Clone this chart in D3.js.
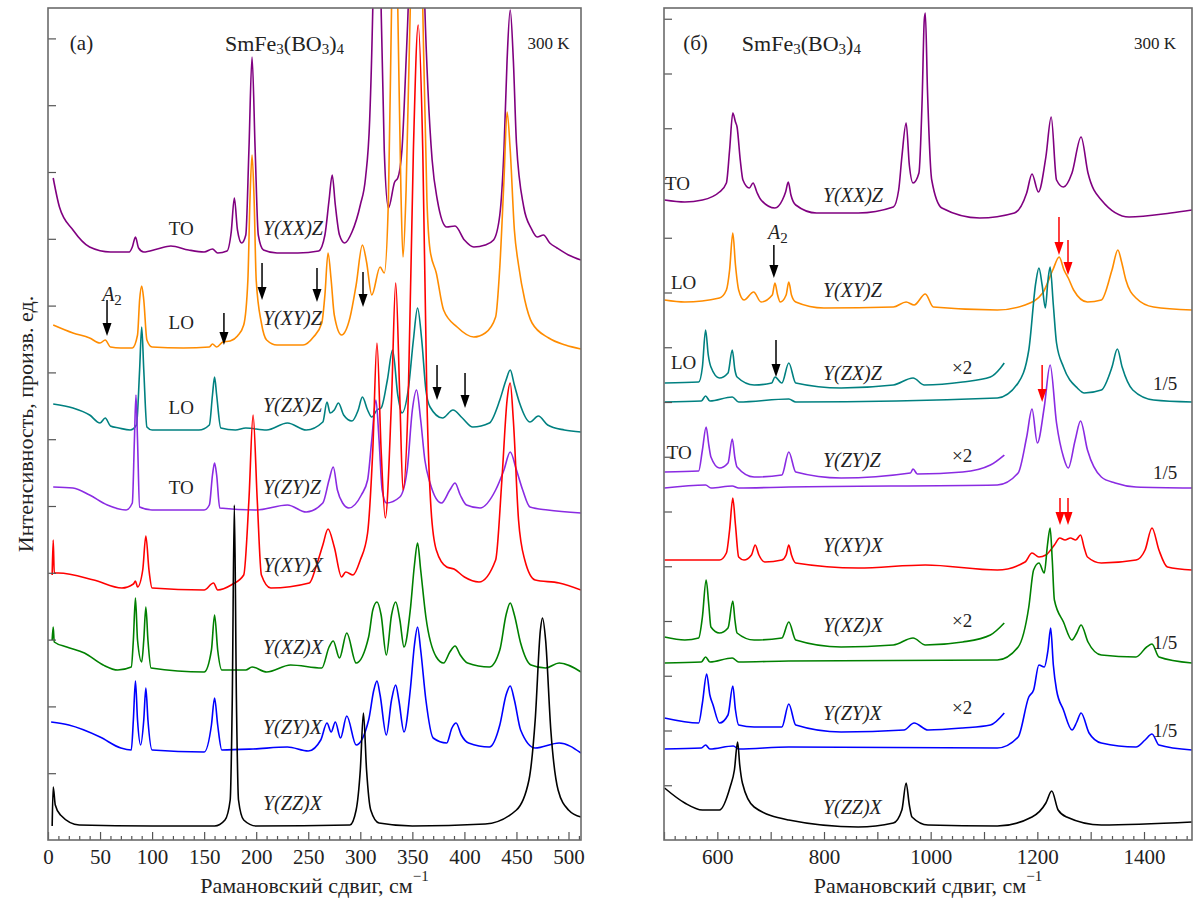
<!doctype html>
<html>
<head>
<meta charset="utf-8">
<title>SmFe3(BO3)4 Raman spectra</title>
<script src="https://cdnjs.cloudflare.com/ajax/libs/d3/7.8.5/d3.min.js"></script>
<style>
  body { margin: 0; background: #fff; }
</style>
</head>
<body>
<div id="root"></div>
<script>
// Raman shift (cm-1) vs intensity (arb. units).
// ---- panel (a), 0..512 cm-1 ----
const aXXZ = [[5,66.2],[11,63.3],[24,61.0],[40,59.3],[60,58.8],[78,58.8],[81,59.3],[84,60.3],[87,59.2],[92,58.8],[105,59.1],[118,59.4],[135,59.0],[150,58.8],[158,59.1],[163,58.7],[172,58.9],[176,60.8],[179,64.2],[182,61.0],[186,59.7],[190,60.5],[193,69.0],[196,78.3],[199,69.0],[202,60.5],[207,59.0],[220,58.7],[240,58.7],[260,58.9],[266,60.5],[270,64.0],[273,66.5],[276,63.5],[280,60.5],[285,59.7],[292,60.8],[300,63.5],[305,66.2],[309,72.0],[312,83.2],[316,110],[320,83.2],[323,69.0],[327,63.2],[333,65.8],[336,66.2],[340,69.0],[344,78.0],[346,83.2],[354,130],[362,83.2],[365,75.0],[369,68.0],[374,64.0],[383,61.3],[391,61.4],[400,60.0],[409,59.3],[420,59.5],[428,60.0],[434,62.5],[438,69.0],[441,78.0],[444,83.0],[447,78.0],[450,69.7],[457,63.3],[464,61.2],[470,60.3],[476,60.5],[482,59.7],[489,59.2],[500,58.5],[512,58.0]];
const aXYZ = [[5,51.5],[24,50.7],[40,50.2],[50,49.7],[55,50.0],[60,49.3],[70,49.2],[81,49.2],[86,50.5],[88,54.0],[90,55.4],[92,54.0],[95,50.0],[100,49.3],[130,49.2],[155,49.3],[158,49.6],[162,49.3],[168,49.8],[175,49.9],[182,50.4],[188,51.5],[192,56.0],[194,64.0],[196,68.5],[198,64.0],[200,56.0],[205,51.7],[210,50.0],[220,49.5],[245,49.5],[255,50.3],[263,51.7],[266,54.5],[269,58.7],[272,56.0],[275,52.5],[282,50.5],[290,52.2],[296,55.5],[302,59.5],[306,57.8],[311,54.5],[319,57.3],[323,56.7],[327,64.0],[330,83.2],[333,100],[336,83.2],[339,65.0],[341,58.3],[344,65.0],[348,83.2],[354,120],[360,83.2],[364,64.0],[367,59.0],[373,56.7],[380,53.0],[393,51.3],[409,50.3],[420,50.7],[430,52.3],[434,57.3],[438,66.0],[441,72.8],[444,69.0],[448,61.0],[452,57.5],[458,54.0],[465,51.7],[481,50.2],[497,49.5],[512,49.1]];
const aZXZ = [[5,43.6],[24,43.2],[40,42.5],[50,41.7],[55,42.2],[60,41.4],[68,41.2],[79,41.0],[85,41.5],[88,47.0],[90,51.3],[92,47.0],[95,41.3],[100,41.0],[145,41.0],[155,41.5],[158,44.5],[160,46.3],[162,44.5],[166,41.2],[180,41.0],[190,41.2],[210,41.0],[230,41.7],[248,41.0],[264,41.8],[268,43.8],[271,42.7],[275,43.0],[279,43.7],[284,42.5],[292,41.9],[298,43.0],[302,44.3],[307,43.0],[311,42.3],[316,43.0],[320,43.2],[326,46.0],[331,49.0],[336,44.5],[340,42.7],[346,45.0],[351,50.0],[355,53.2],[359,50.0],[363,45.0],[367,43.3],[379,42.2],[389,43.0],[398,42.2],[408,41.3],[424,41.7],[434,44.0],[440,46.0],[444,47.0],[448,45.5],[453,43.7],[463,41.8],[471,42.4],[480,41.5],[496,41.0],[512,40.8]];
const aZYZ = [[5,35.3],[24,35.2],[40,34.5],[57,33.5],[75,33.0],[81,33.7],[83,40.0],[84.5,44.5],[86,40.0],[88,33.3],[100,33.0],[150,33.0],[155,33.5],[158,36.5],[160,37.7],[162,36.5],[165,33.2],[200,33.0],[230,33.5],[248,32.8],[264,33.7],[270,36.0],[274,37.3],[278,35.0],[283,33.7],[289,33.2],[301,34.5],[307,36.0],[311,40.0],[315,44.0],[318,40.0],[321,35.0],[325,33.7],[338,34.3],[345,37.0],[350,43.0],[354,45.0],[358,42.0],[362,38.0],[367,35.7],[378,33.7],[386,35.0],[391,35.7],[396,34.5],[402,33.5],[415,33.2],[430,35.0],[438,37.0],[444,38.8],[450,37.0],[456,35.0],[463,33.3],[480,33.0],[512,32.7]];
const aXYX = [[4,26.5],[5,30.0],[6,26.7],[10,26.7],[44,26.0],[71,25.2],[82,25.6],[84,25.9],[86,25.3],[91,27.0],[94,30.4],[97,27.0],[100,25.2],[150,25.0],[159,25.7],[163,25.0],[176,25.5],[188,26.5],[193,34.0],[197,42.5],[201,34.0],[205,26.5],[214,25.2],[251,25.7],[258,27.5],[264,29.5],[269,31.1],[275,29.3],[282,26.3],[286,26.8],[293,26.5],[300,28.0],[307,30.7],[312,39.0],[316,49.7],[320,39.0],[324,32.2],[330,44.0],[334,55.7],[338,44.0],[341,35.0],[346,44.0],[351,69.0],[355.6,81.5],[360,69.0],[364,44.0],[368,33.0],[373,29.0],[383,27.3],[390,27.1],[400,26.3],[414,25.8],[430,28.0],[436,36.0],[441,44.0],[444,45.7],[447,42.0],[452,32.0],[458,28.0],[468,26.0],[491,25.7],[512,25.0]];
const aXZX = [[4,20.0],[5,21.3],[6,19.8],[18,19.3],[35,18.7],[53,17.5],[67,17.0],[80,17.3],[82,20.0],[84,24.2],[86,20.0],[90,17.8],[92,20.0],[94,23.3],[96,20.0],[99,17.2],[150,16.8],[157,19.0],[160,22.5],[163,19.0],[167,17.0],[190,17.0],[196,17.3],[210,16.8],[233,17.5],[263,17.2],[270,19.3],[274,19.9],[280,18.2],[287,20.7],[296,17.7],[308,20.3],[312,23.0],[316,23.8],[320,22.5],[325,18.5],[330,22.5],[334,23.8],[338,22.0],[342,19.3],[348,23.0],[352,27.5],[355,29.7],[358,27.0],[363,22.3],[373,18.3],[380,17.7],[386,18.8],[391,19.4],[396,18.5],[403,17.7],[424,17.3],[434,19.0],[440,22.5],[444,23.7],[448,22.5],[454,19.7],[464,17.5],[478,17.2],[491,17.7],[512,16.8]];
const aZYX = [[3,11.8],[20,11.5],[50,10.3],[70,9.2],[80,9.0],[82,12.0],[84,15.9],[86,12.0],[89,9.5],[92,12.0],[94,15.2],[96,12.0],[100,9.0],[150,8.8],[157,11.5],[160,14.2],[163,11.5],[167,9.0],[197,9.1],[230,9.3],[250,8.9],[262,10.0],[268,11.7],[272,10.8],[276,11.8],[281,10.2],[287,12.4],[296,9.5],[308,12.0],[313,15.0],[316,15.9],[319,14.5],[325,10.5],[330,14.0],[334,15.5],[337,14.0],[342,10.8],[348,15.0],[352,19.5],[355,21.3],[358,19.0],[363,14.0],[370,10.2],[383,9.7],[388,11.2],[392,11.7],[397,10.5],[404,9.7],[424,9.3],[434,11.5],[440,14.5],[444,15.4],[448,14.0],[454,11.0],[468,9.2],[491,9.7],[512,8.7]];
const aZZX = [[4,1.4],[5,5.3],[7,3.5],[12,2.5],[30,1.5],[100,1.4],[160,1.4],[170,2.0],[175,4.0],[177,14.0],[179,33.5],[181,14.0],[183,4.0],[188,2.0],[200,1.4],[290,1.5],[296,3.0],[300,7.0],[303,12.7],[306,7.0],[310,3.0],[318,1.7],[350,1.4],[420,1.6],[450,3.0],[462,6.0],[468,12.0],[473,21.0],[475,22.2],[478,20.0],[483,11.0],[490,5.0],[500,3.0],[512,2.3]];

// ---- panel (б), 500..1490 cm-1 ----
const bXXZ = [[501,64.0],[539,63.8],[572,64.0],[604,64.8],[617,65.7],[623,69.0],[629,72.7],[634,71.8],[637,71.3],[643,68.0],[648,66.0],[660,65.2],[667,65.7],[674,64.8],[682,64.0],[708,63.2],[722,64.0],[728,64.8],[733,65.8],[738,64.5],[747,63.5],[786,62.7],[864,62.7],[930,63.3],[940,65.0],[946,68.3],[954,71.7],[960,67.5],[967,65.7],[978,66.7],[984,74.0],[988,82.0],[990,82.7],[994,75.0],[1002,66.0],[1021,63.2],[1092,62.2],[1157,62.7],[1180,64.7],[1190,66.6],[1202,64.8],[1216,68.3],[1226,72.3],[1236,66.0],[1249,65.3],[1265,66.7],[1282,70.3],[1295,66.7],[1320,64.0],[1372,62.3],[1450,62.7],[1490,63.0]];
const bXYZ = [[501,54.0],[539,53.8],[604,54.2],[617,55.0],[623,57.0],[629,60.7],[634,57.5],[640,55.0],[650,54.0],[668,54.8],[682,53.8],[703,54.5],[708,55.7],[713,54.5],[718,53.8],[729,54.5],[734,55.8],[739,54.5],[747,53.8],[800,53.2],[930,53.3],[954,53.8],[969,53.5],[990,54.6],[1005,53.3],[1125,53.0],[1177,53.5],[1210,54.7],[1229,57.0],[1241,58.3],[1250,57.0],[1258,56.2],[1268,55.0],[1294,53.8],[1320,54.0],[1340,57.0],[1351,59.0],[1358,57.8],[1366,56.0],[1385,54.2],[1418,53.3],[1490,53.0]];
const bZXZx2 = [[501,45.7],[565,45.8],[572,47.3],[578,51.0],[583,48.5],[588,47.3],[604,46.2],[620,46.7],[628,49.0],[633,47.0],[637,46.3],[669,45.5],[702,45.7],[708,46.3],[721,45.7],[734,47.7],[747,45.7],[832,45.2],[930,45.5],[967,46.2],[988,45.5],[1060,45.8],[1112,46.3],[1131,47.2],[1138,47.7]];
const bZXZ = [[501,43.8],[570,43.9],[578,44.4],[586,43.9],[628,44.3],[640,43.8],[734,44.1],[747,43.8],[1125,44.2],[1164,45.7],[1184,49.0],[1197,55.7],[1203,57.2],[1209,55.5],[1215,53.2],[1220,56.0],[1224,57.3],[1230,53.5],[1236,49.7],[1249,47.3],[1275,45.2],[1288,44.7],[1320,45.0],[1340,47.3],[1350,49.1],[1359,47.3],[1379,45.0],[1418,44.0],[1490,43.8]];
const bZYZx2 = [[501,36.8],[565,36.9],[572,39.0],[579,41.3],[584,39.5],[588,38.3],[604,37.2],[620,37.7],[628,40.1],[633,38.2],[637,37.3],[669,36.3],[721,36.5],[734,38.8],[747,36.8],[832,36.2],[962,36.7],[967,37.1],[975,36.6],[1060,36.8],[1112,37.5],[1138,38.5]];
const bZYZ = [[501,35.2],[578,35.5],[588,35.2],[628,35.4],[640,35.2],[734,35.3],[1125,35.5],[1164,36.7],[1180,40.3],[1190,43.1],[1200,39.7],[1213,43.3],[1224,47.5],[1236,41.7],[1249,38.3],[1258,37.2],[1271,40.0],[1281,41.9],[1294,39.0],[1320,36.3],[1346,35.7],[1385,35.3],[1490,35.2]];
const bXYX = [[501,28.0],[604,28.0],[617,28.7],[623,31.0],[629,34.2],[634,31.5],[640,28.3],[650,28.0],[664,28.5],[671,29.5],[678,28.5],[689,27.8],[721,28.0],[729,28.5],[734,29.5],[739,28.5],[747,27.7],[864,27.2],[990,27.5],[1125,27.0],[1177,27.8],[1190,28.7],[1203,28.3],[1216,28.5],[1232,29.5],[1242,30.2],[1252,30.0],[1262,30.2],[1272,30.0],[1281,30.5],[1288,29.2],[1294,28.3],[1320,27.7],[1385,28.0],[1402,29.0],[1415,31.2],[1428,29.0],[1444,27.3],[1490,27.0]];
const bXZXx2 = [[501,20.3],[539,20.0],[565,20.2],[572,22.3],[579,26.0],[584,23.5],[588,21.3],[604,20.7],[620,21.2],[629,23.9],[633,22.0],[637,20.7],[669,20.0],[721,20.2],[734,21.8],[747,20.0],[832,19.3],[930,19.5],[967,20.2],[990,19.5],[1060,19.8],[1112,20.5],[1138,21.7]];
const bXZX = [[501,17.7],[570,17.8],[578,18.3],[586,17.8],[628,18.2],[640,17.8],[734,17.9],[1125,18.0],[1164,19.3],[1184,23.3],[1193,27.0],[1203,27.7],[1213,26.7],[1219,29.5],[1224,31.2],[1228,28.0],[1232,24.0],[1249,21.8],[1265,20.0],[1274,20.7],[1282,21.5],[1295,19.8],[1320,18.5],[1385,18.3],[1405,19.3],[1415,19.6],[1428,18.3],[1490,17.7]];
const bZYXx2 = [[501,12.2],[565,11.7],[572,13.7],[580,16.6],[586,14.5],[592,13.5],[604,11.7],[620,12.5],[629,15.4],[634,13.0],[640,11.5],[669,11.3],[721,11.3],[734,13.6],[747,11.5],[832,10.8],[950,11.0],[969,11.7],[995,11.0],[1060,11.2],[1112,11.5],[1138,12.7]];
const bZYX = [[501,9.1],[570,9.2],[578,9.5],[586,9.1],[630,9.4],[640,9.1],[734,9.3],[1125,9.2],[1164,10.3],[1184,14.3],[1193,15.0],[1203,17.5],[1213,17.3],[1220,19.0],[1225,21.2],[1230,17.5],[1236,15.0],[1249,13.0],[1265,11.0],[1274,11.8],[1282,12.7],[1297,10.7],[1320,9.7],[1385,9.3],[1402,10.0],[1415,10.6],[1428,9.5],[1490,9.0]];
const bZZX = [[501,5.2],[539,3.7],[572,3.0],[604,3.0],[624,5.3],[632,7.0],[638,9.8],[642,7.5],[647,5.7],[669,3.3],[734,2.0],[864,1.3],[930,1.7],[946,3.0],[954,5.7],[960,3.5],[965,2.3],[995,1.5],[1125,1.4],[1190,2.3],[1216,3.7],[1227,4.9],[1239,3.0],[1255,2.3],[1320,1.5],[1490,1.8]];

// axis ticks
const leftMajor = [0,50,100,150,200,250,300,350,400,450,500];
const rightLabels = [600,800,1000,1200,1400];
const leftYTickStep = 6.68, rightYTickStep = 5.475;

const W = 1194, H = 913, TOP = 8, BOTTOM = 840, YMAX = 83.2;
const FONT = '"Liberation Serif", "Times New Roman", Times, serif';
const C = {purple:'#800080', orange:'#ff8c00', teal:'#008080', violet:'#8a2be2', red:'#ff0000', green:'#008000', blue:'#0000ff', black:'#000'};

const svg = d3.select('#root').append('svg').attr('width', W).attr('height', H);

function drawPanel(cfg) {
  const x = d3.scaleLinear().domain(cfg.xDomain).range([cfg.left, cfg.right]);
  const y = d3.scaleLinear().domain([0, YMAX]).range([BOTTOM, TOP]);
  const g = svg.append('g');

  g.append('clipPath').attr('id', 'clip-' + cfg.id)
    .append('rect').attr('x', cfg.left).attr('y', TOP)
    .attr('width', cfg.right - cfg.left).attr('height', BOTTOM - TOP);

  const line = d3.line().x(d => x(d[0])).y(d => y(d[1])).curve(d3.curveMonotoneX);
  const plot = g.append('g').attr('clip-path', 'url(#clip-' + cfg.id + ')');
  cfg.series.forEach(s => {
    plot.append('path').attr('d', line(s[0])).attr('fill', 'none')
      .attr('stroke', s[1]).attr('stroke-width', 1.6).attr('stroke-linejoin', 'round');
  });

  // minor x ticks
  g.append('g').attr('transform', 'translate(0,' + BOTTOM + ')')
    .call(d3.axisBottom(x).tickValues(cfg.minor).tickSize(-4).tickFormat(''))
    .call(a => a.select('.domain').remove());
  // major x ticks
  const xa = g.append('g').attr('transform', 'translate(0,' + BOTTOM + ')')
    .call(d3.axisBottom(x).tickValues(cfg.major).tickSize(-8).tickPadding(9)
      .tickFormat(d => cfg.labels.includes(d) ? d : ''))
    .call(a => a.select('.domain').remove());
  xa.selectAll('text').style('font-size', '21px').attr('fill', '#222');
  // y ticks
  g.append('g').attr('transform', 'translate(' + cfg.left + ',0)')
    .call(d3.axisLeft(y).tickValues(d3.range(1, 16).map(k => k * cfg.yStep).filter(v => v < YMAX - 0.5))
      .tickSize(-8).tickFormat(''))
    .call(a => a.select('.domain').remove());
  g.selectAll('.tick line').attr('stroke', '#555').attr('stroke-width', 1.2);

  g.append('rect').attr('x', cfg.left).attr('y', TOP)
    .attr('width', cfg.right - cfg.left).attr('height', BOTTOM - TOP)
    .attr('fill', 'none').attr('stroke', '#6b6b6b').attr('stroke-width', 1.6);

  // text annotations
  cfg.texts.forEach(t => {
    const el = g.append('text').attr('x', x(t[1])).attr('y', y(t[2]))
      .attr('dominant-baseline', 'central').style('font-size', t[4] + 'px')
      .attr('text-anchor', t[5] || 'start');
    if (t[3] === 'i') el.style('font-style', 'italic');
    el.text(t[0]);
  });

  // sub-scripted title
  const f = g.append('text').attr('x', x(cfg.formulaAt[0])).attr('y', y(cfg.formulaAt[1]))
    .attr('dominant-baseline', 'central').style('font-size', '22px');
  [['SmFe', 0], ['3', 6], ['(BO', -6], ['3', 6], [')', -6], ['4', 6]].forEach(p => {
    const ts = f.append('tspan').text(p[0]).attr('dy', p[1]);
    if (p[1] > 0) ts.style('font-size', '15px');
  });

  cfg.a2.forEach(p => {
    const t = g.append('text').attr('x', x(p[0])).attr('y', y(p[1])).attr('dominant-baseline', 'central').style('font-size', '20px');
    t.append('tspan').text('A').style('font-style', 'italic');
    t.append('tspan').text('2').style('font-size', '15px').attr('dy', 6);
  });

  // arrows
  cfg.arrows.forEach(a => {
    const ax = x(a[0]), y0 = y(a[1]), y1 = y(a[2]);
    g.append('line').attr('x1', ax).attr('x2', ax).attr('y1', y0).attr('y2', y1 - 10)
      .attr('stroke', a[3]).attr('stroke-width', 1.5);
    g.append('path').attr('d', `M${ax - 4.5},${y1 - 13}L${ax + 4.5},${y1 - 13}L${ax},${y1}Z`).attr('fill', a[3]);
  });

  // axis title
  const xt = g.append('text').attr('x', (cfg.left + cfg.right) / 2).attr('y', 893)
    .attr('text-anchor', 'middle').style('font-size', '22px');
  xt.append('tspan').text('Рамановский сдвиг, см');
  xt.append('tspan').text('\u22121').style('font-size', '15px').attr('dy', -12);
}

drawPanel({
  id: 'a', xDomain: [0, 512], left: 48, right: 581, yStep: leftYTickStep,
  major: leftMajor, labels: leftMajor, minor: d3.range(0, 512, 10).filter(v => v % 50),
  series: [[aXXZ, C.purple], [aXYZ, C.orange], [aZXZ, C.teal], [aZYZ, C.violet],
           [aXYX, C.red], [aXZX, C.green], [aZYX, C.blue], [aZZX, C.black]],
  texts: [['(a)', 21, 79.7, 'n', 21], ['300 K', 501, 79.7, 'n', 17, 'end'],
          ['TO', 128, 61.2, 'n', 19, 'middle'], ['Y(XX)Z', 206.5, 61.2, 'i', 20],
          ['LO', 128, 51.8, 'n', 19, 'middle'], ['Y(XY)Z', 206.5, 52.2, 'i', 20],
          ['LO', 128, 43.3, 'n', 19, 'middle'], ['Y(ZX)Z', 206.5, 43.5, 'i', 20],
          ['TO', 128, 35.3, 'n', 19, 'middle'], ['Y(ZY)Z', 206.5, 35.3, 'i', 20],
          ['Y(XY)X', 206.5, 27.5, 'i', 20], ['Y(XZ)X', 206.5, 19.3, 'i', 20],
          ['Y(ZY)X', 206.5, 11.3, 'i', 20], ['Y(ZZ)X', 206.5, 3.7, 'i', 20]],
  formulaAt: [170, 79.7], a2: [[52, 54.6]],
  arrows: [[56.7, 54.0, 50.4, '#000'], [169, 52.7, 49.5, '#000'], [205.6, 57.7, 54.0, '#000'],
           [258.4, 57.2, 53.8, '#000'], [302.6, 56.8, 53.3, '#000'], [373.7, 47.5, 44.0, '#000'],
           [400.6, 46.7, 43.2, '#000']]
});

drawPanel({
  id: 'b', xDomain: [500, 1490], left: 664, right: 1192, yStep: rightYTickStep,
  major: d3.range(500, 1490, 100), labels: rightLabels, minor: d3.range(520, 1490, 20).filter(v => v % 100),
  series: [[bXXZ, C.purple], [bXYZ, C.orange], [bZXZx2, C.teal], [bZXZ, C.teal], [bZYZx2, C.violet], [bZYZ, C.violet],
           [bXYX, C.red], [bXZXx2, C.green], [bXZX, C.green], [bZYXx2, C.blue], [bZYX, C.blue], [bZZX, C.black]],
  texts: [['(б)', 536, 79.7, 'n', 21], ['300 K', 1460, 79.7, 'n', 17, 'end'],
          ['TO', 502, 65.7, 'n', 19], ['Y(XX)Z', 798, 64.5, 'i', 20],
          ['LO', 513, 55.8, 'n', 19], ['Y(XY)Z', 798, 55.0, 'i', 20],
          ['LO', 513, 47.8, 'n', 19], ['Y(ZX)Z', 798, 46.7, 'i', 20], ['\u00d72', 1040, 47.3, 'n', 19], ['1/5', 1417, 45.7, 'n', 19],
          ['TO', 505, 38.8, 'n', 19], ['Y(ZY)Z', 798, 38.0, 'i', 20], ['\u00d72', 1040, 38.5, 'n', 19], ['1/5', 1417, 36.8, 'n', 19],
          ['Y(XY)X', 798, 29.5, 'i', 20],
          ['Y(XZ)X', 798, 21.5, 'i', 20], ['\u00d72', 1040, 22.0, 'n', 19], ['1/5', 1417, 19.8, 'n', 19],
          ['Y(ZY)X', 798, 12.7, 'i', 20], ['\u00d72', 1040, 13.3, 'n', 19], ['1/5', 1417, 11.0, 'n', 19],
          ['Y(ZZ)X', 798, 3.3, 'i', 20]],
  formulaAt: [646, 79.7], a2: [[695, 60.8]],
  arrows: [[706, 59.5, 56.2, '#000'], [710, 50.0, 46.3, '#000'],
           [1240.6, 62.3, 58.5, '#f00'], [1257.5, 60.0, 56.5, '#f00'], [1209, 47.5, 43.8, '#f00'],
           [1242.5, 34.2, 31.5, '#f00'], [1257.5, 34.2, 31.5, '#f00']]
});

svg.append('text').attr('transform', 'translate(25,424) rotate(-90)')
  .attr('text-anchor', 'middle').attr('dominant-baseline', 'central')
  .style('font-size', '22px').text('Интенсивность, произв. ед.');

// one serif face for every label
svg.selectAll('text').style('font-family', FONT).attr('fill', '#222');
</script>
</body>
</html>
